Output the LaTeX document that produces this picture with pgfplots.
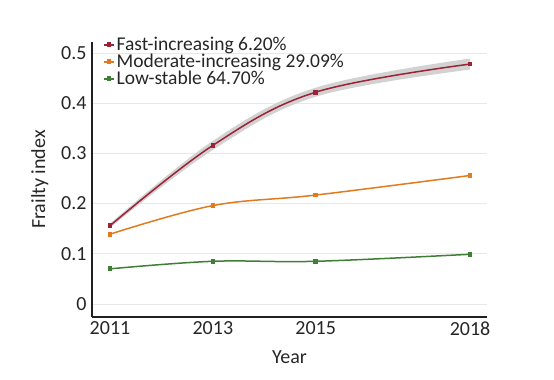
\documentclass[border=0pt]{standalone}
\usepackage{pgfplots}
\pgfplotsset{compat=1.18}
\usepgfplotslibrary{fillbetween}
\usepackage{fontspec}
\setmainfont{Carlito}
\definecolor{cfast}{HTML}{9B2335}
\definecolor{cmod}{HTML}{E07B20}
\definecolor{clow}{HTML}{3F7F35}
\definecolor{caxis}{HTML}{231F20}
\begin{document}
\begin{tikzpicture}
\begin{axis}[
  at={(0,0)}, anchor=south west,
  scale only axis, width=395pt, height=275pt,
  xmin=-0.35, xmax=7.33, ymin=-0.026, ymax=0.522,
  axis lines*=left,
  axis line style={caxis, line width=1.6pt, -},
  xtick={0,2,4,7},
  xticklabels={2011,2013,2015,2018},
  ytick={0,0.1,0.2,0.3,0.4,0.5},
  yticklabels={0,0.1,0.2,0.3,0.4,0.5},
  major tick length=0pt,
  ymajorgrids, grid style={gray!18, line width=0.8pt},
  tick label style={font=\fontsize{20}{22}\selectfont, text=black!85},
  xticklabel style={yshift=-1pt},
  yticklabel style={xshift=-2pt},
  xlabel={Year}, ylabel={Frailty index},
  label style={font=\fontsize{20}{22}\selectfont, text=black!85},
  xlabel style={yshift=-8pt},
  ylabel style={yshift=6pt},
  legend style={at={(0.02,1.025)}, anchor=north west, draw=none, fill=none,
    font=\fontsize{19.5}{21}\selectfont, text=black!85, row sep=2pt,
    nodes={inner xsep=2pt, inner ysep=0pt}},
  legend cell align=left,
  legend image code/.code={\draw[#1,mark repeat=2,mark phase=2] plot coordinates {(0pt,0pt)(5pt,0pt)(10pt,0pt)};},
]
\addplot[name path=up, draw=none, mark=none, smooth, tension=0.6, forget plot] coordinates {(0,0.160)(2,0.325)(4,0.431)(7,0.489)};
\addplot[name path=lo, draw=none, mark=none, smooth, tension=0.6, forget plot] coordinates {(0,0.152)(2,0.307)(4,0.413)(7,0.467)};
\addplot[fill=gray!35, draw=none, forget plot] fill between[of=up and lo];
\addplot[cfast, line width=1.5pt, mark=square*, mark size=1.6pt, smooth, tension=0.6] coordinates {(0,0.156)(2,0.316)(4,0.422)(7,0.478)};
\addplot[cmod, line width=1.5pt, mark=square*, mark size=1.6pt, smooth, tension=0.6] coordinates {(0,0.139)(2,0.196)(4,0.217)(7,0.256)};
\addplot[clow, line width=1.5pt, mark=square*, mark size=1.6pt, smooth, tension=0.6] coordinates {(0,0.070)(2,0.085)(4,0.085)(7,0.099)};
\legend{Fast-increasing 6.20\%, Moderate-increasing 29.09\%, Low-stable 64.70\%}
\end{axis}
\path (-92pt,-63pt) rectangle (462pt,317pt);
\end{tikzpicture}
\end{document}
